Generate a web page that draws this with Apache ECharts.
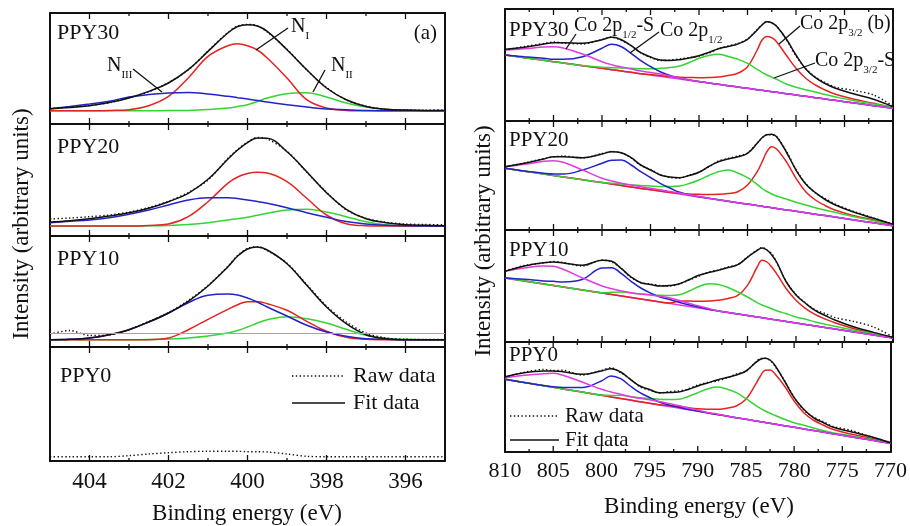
<!DOCTYPE html>
<html>
<head>
<meta charset="utf-8">
<script src="https://cdn.jsdelivr.net/npm/echarts@6/dist/echarts.min.js"></script>
<style>
  html, body { margin: 0; padding: 0; background: #fff; }
  #chart { width: 910px; height: 526px; }
</style>
</head>
<body>
<div id="chart"></div>
<script>
// ---------- N 1s panel (a): binding energy grid, eV ----------
const energyA = [405, 404.5, 404, 403.5, 403, 402.5, 402, 401.5, 401, 400.5, 400.25, 400, 399.75, 399.5, 399, 398.5, 398, 397.5, 397, 396.5, 396, 395.5, 395];
const rangeA = [395, 405];
const majorTicksA = [404, 402, 400, 398, 396];
const minorTicksA = [403, 401, 399, 397];

// PPY30
const a30Fit = [15.3, 16.5, 18.3, 21.5, 26, 32.6, 41, 54.3, 72.6, 91, 97.5, 99.3, 98, 92.6, 74.3, 54.3, 36, 24.3, 17.6, 14.8, 13.9, 13.6, 13.6];
const a30Raw = [15.6, 16.8, 18.5, 21.2, 26.4, 32.2, 41.5, 54, 73, 91.5, 98, 99.6, 98.3, 92, 74.8, 54, 36.5, 24, 17.9, 14.6, 14, 13.9, 14];
const a30N1 = [13.3, 13.3, 13.3, 13.6, 14.3, 18.3, 27.6, 46, 67.6, 78.3, 80.3, 78.3, 74, 66, 46, 24.3, 16, 13.6, 13.3, 13.3, 13.3, 13.3, 13.3];
const a30N2 = [13.3, 13.3, 13.3, 13.3, 13.3, 13.3, 13.4, 13.6, 14.5, 16, 17.5, 19.3, 22.5, 26, 30.3, 31.3, 27, 21, 17, 14.8, 13.8, 13.3, 13.3];
const a30N3 = [15.3, 17.5, 20, 22.8, 27, 29.5, 31, 31.6, 30, 27.7, 26.3, 25, 23.6, 22, 19.3, 17, 15, 14.2, 13.6, 13.3, 13.3, 13.3, 13.3];
// PPY20
const a20Fit = [14, 15.3, 17.3, 20, 23.3, 27.7, 34.3, 42.7, 56.7, 76.7, 86, 93.3, 98, 97.7, 84.3, 64.3, 43.3, 26.7, 17.3, 13.3, 11.3, 10.7, 10.3];
const a20Raw = [17, 18, 19.3, 21, 24, 28.5, 34.8, 43.5, 56, 77.5, 86.5, 94, 98.5, 97, 84.8, 63.8, 43.8, 26.2, 17.7, 13.8, 12, 11.5, 11.2];
const a20N1 = [10, 10, 10, 10, 10, 10.5, 12, 19.3, 34.3, 52.7, 59, 62.5, 63.7, 63, 54.3, 37.7, 21, 12.3, 10.3, 10, 10, 10, 10];
const a20N2 = [10, 10, 10, 10, 10, 10.2, 10.5, 11.5, 13.3, 16, 17.3, 18.7, 20.7, 22.7, 26, 26.7, 24, 19.3, 14.3, 11.3, 10, 10, 10];
const a20N3 = [13.3, 14.7, 16, 18.3, 21.7, 26, 31, 36, 38.3, 38.3, 37.5, 36, 34.5, 32.7, 28.3, 23.3, 18.7, 14.5, 12, 10.7, 10.3, 10, 10];
// PPY10
const a10Fit = [7.3, 7.7, 9, 12.3, 17.3, 25, 34, 45.7, 61, 80, 91, 98, 100, 97, 83.3, 61.7, 40, 23.3, 12.3, 8.3, 7.3, 7.3, 7.3];
const a10Raw = [13, 16.5, 11.5, 12, 17.5, 25.5, 34.5, 46.5, 61.5, 80.5, 91.5, 98.7, 100.3, 96.5, 83.8, 62.5, 41, 25, 14, 9, 7.8, 7.5, 7.5];
const a10N1 = [7.3, 7.3, 7.3, 7.3, 7.3, 7.3, 9, 17.3, 27.7, 37.7, 42.3, 45.3, 45.3, 43.3, 36.7, 25.7, 15.7, 9.7, 7.7, 7.3, 7.3, 7.3, 7.3];
const a10N2 = [7.3, 7.3, 7.3, 7.3, 7.3, 7.5, 8, 9, 11, 14, 16.5, 20, 24, 27.3, 30.3, 28.3, 24, 17.7, 11.7, 8.7, 7.7, 7.3, 7.3];
const a10N3 = [7.3, 7.7, 9, 12.3, 17.3, 25, 34, 44.3, 51.7, 53, 52, 49, 45, 40, 31, 21.7, 15, 10.7, 8.3, 7.7, 7.3, 7.3, 7.3];
const a10Level = 14;
// PPY0
const a0Raw = [4.3, 4.3, 4.3, 4.3, 5.3, 7, 8.3, 9.3, 9.7, 9.7, 9.7, 9.3, 9.2, 9, 7, 4.7, 4.3, 4.3, 4.3, 4.3, 4.3, 4.3, 4.3];

// ---------- Co 2p panel (b): binding energy grid, eV ----------
const energyB = [810, 808, 806, 805, 804, 802, 800, 799, 798, 797, 796, 795, 794, 793, 792, 791, 790, 789, 788, 787, 786, 785, 784, 783.5, 783, 782.5, 782, 781, 780, 779, 778, 777, 776, 774, 772, 770];
const ticksB = [810, 805, 800, 795, 790, 785, 780, 775, 770];
const minorTicksB = [807.5, 802.5, 797.5, 792.5, 787.5, 782.5, 777.5, 772.5];

// PPY30
const b30Bg   = [66, 63.3, 60.7, 59.3, 58, 55.3, 52.7, 51.3, 50, 48.7, 47.3, 46, 44.7, 43.3, 42, 40.7, 39.3, 38, 36.7, 35.3, 34, 32.7, 31.3, 30.7, 30, 29.3, 28.7, 27.3, 26, 24.7, 23.3, 22, 20.7, 18, 15.3, 12.7];
const b30P12S = [71, 72.3, 74, 74.3, 73, 67, 59.3, 56.3, 54, 52, 50, 48.5, 47, 45, 43, 41, 39.5, 38, 36.7, 35.3, 34, 32.7, 31.3, 30.7, 30, 29.3, 28.7, 27.3, 26, 24.7, 23.3, 22, 20.7, 18, 15.3, 12.7];
const b30P12  = [66, 64.3, 62.7, 61.7, 61.7, 64.3, 72.7, 76.7, 74.3, 67.7, 60.3, 54.5, 49.3, 45.5, 43, 41, 39.5, 38, 36.7, 35.3, 34, 32.7, 31.3, 30.7, 30, 29.3, 28.7, 27.3, 26, 24.7, 23.3, 22, 20.7, 18, 15.3, 12.7];
const b30P32S = [66, 63.3, 60.7, 59.3, 58, 55.5, 53.7, 53.3, 53, 52.7, 52.3, 52.3, 52.7, 53.5, 55, 58.5, 62.7, 65.5, 66.7, 64.5, 61.7, 57.7, 51.7, 48.7, 46, 43.8, 41.7, 37, 33.7, 31.3, 29, 26.5, 24.3, 20.3, 17, 13.7];
const b30P32  = [66, 63.3, 60.7, 59.3, 58, 55.3, 52.7, 51.3, 50, 48.7, 47.3, 46.5, 45.3, 44.5, 43.7, 43.5, 43.3, 43.5, 44, 45.5, 47.7, 54.3, 71, 81, 84.5, 83.3, 79.3, 65.7, 52.7, 42.7, 36, 31, 27, 21.7, 17.7, 13.3];
const b30Fit  = [71.7, 73.7, 77, 78.3, 78.3, 77.7, 81.3, 83.7, 81.3, 75.3, 68.3, 64, 61, 60.5, 61.3, 63, 65.3, 68.5, 72.3, 74.5, 77, 81.7, 91, 96, 99.3, 98.3, 94.7, 82, 66, 52, 43.3, 37.5, 33, 27, 21.7, 14.3];
const b30Raw  = [71, 74.5, 77.5, 79, 78, 77, 81.5, 84, 80.5, 75.5, 68, 63.5, 60.5, 61, 62, 63.5, 65, 68, 72, 75, 77.5, 82, 91.5, 96.5, 99.5, 98, 95, 81.5, 65, 52.5, 44, 38.5, 34, 30.5, 26, 15];
// PPY20
const b20Bg   = [61.7, 58.8, 56, 54.5, 53.1, 50.2, 47.4, 45.9, 44.5, 43.1, 41.6, 40.2, 38.8, 37.4, 35.9, 34.5, 33, 31.6, 30.2, 28.8, 27.3, 25.9, 24.4, 23.7, 23, 22.3, 21.6, 20.1, 18.7, 17.2, 15.8, 14.4, 12.9, 10, 7.2, 4.3];
const b20P12S = [63.3, 65.7, 68.7, 69.3, 67.7, 60, 51.7, 49, 46.7, 45, 43.3, 41.7, 40.3, 38.6, 37, 35.2, 33.5, 31.8, 30.2, 28.8, 27.3, 25.9, 24.4, 23.7, 23, 22.3, 21.6, 20.1, 18.7, 17.2, 15.8, 14.4, 12.9, 10, 7.2, 4.3];
const b20P12  = [61.7, 59, 56.7, 56, 56, 60, 66.7, 69.7, 70, 65, 58.3, 52.5, 46.7, 42, 37.7, 35, 33.3, 31.7, 30.2, 28.8, 27.3, 25.9, 24.4, 23.7, 23, 22.3, 21.6, 20.1, 18.7, 17.2, 15.8, 14.4, 12.9, 10, 7.2, 4.3];
const b20P32S = [61.7, 58.8, 56, 54.5, 53.1, 50.2, 47.6, 46.8, 46, 45.2, 44.5, 44, 43.5, 43.5, 44, 46.5, 50, 54.5, 58.3, 60, 57, 52.3, 45.7, 41.5, 38.5, 36, 34, 31, 27.7, 25, 22.3, 20, 17.7, 13.3, 9.3, 5];
const b20P32  = [61.7, 58.8, 56, 54.5, 53.1, 50.2, 47.4, 45.9, 44.5, 43.1, 41.6, 40.3, 39, 37.6, 36.7, 36, 35.7, 35.5, 35.7, 36.5, 38.3, 45, 58.3, 68, 78.3, 83.3, 81, 68.3, 51.7, 38.3, 30, 24.5, 20, 14.3, 10, 5];
const b20Fit  = [63.3, 66.7, 71, 73.3, 73.3, 72.3, 76, 78.3, 77.3, 72.3, 65, 60, 55, 53, 52.3, 54.5, 57.7, 63.5, 68.3, 71, 73.3, 76.7, 86.7, 92.3, 95.3, 95.7, 93.3, 78, 60, 46, 37.3, 30.5, 25.3, 17.7, 11.7, 5.7];
const b20Raw  = [63, 67, 71.5, 73, 74, 72, 76.5, 78.5, 77, 72, 64.5, 60.5, 55.5, 52.5, 52, 55, 58, 63, 69, 71.5, 74, 77, 87, 92, 95.5, 95, 93.5, 79, 60.5, 46.5, 37, 31.5, 26, 18.5, 12, 6];
// PPY10
const b10Bg   = [64, 61, 58, 56.5, 55, 52, 49, 47.5, 46, 44.5, 43, 41.5, 40, 38.5, 37, 35.5, 34, 32.5, 31, 29.5, 28, 26.5, 25, 24.3, 23.5, 22.8, 22, 20.5, 19, 17.5, 16, 14.5, 13, 10, 7, 4];
const b10P12S = [70.7, 74, 76, 75.7, 72.7, 64, 56, 53.3, 51, 49.3, 48, 47, 45.7, 44, 41.5, 38.5, 36, 33.5, 31, 29.5, 28, 26.5, 25, 24.3, 23.5, 22.8, 22, 20.5, 19, 17.5, 16, 14.5, 13, 10, 7, 4];
const b10P12  = [64, 62.7, 61, 60.7, 60, 62.7, 74, 74.3, 68.3, 60.7, 54, 49, 45, 42.5, 39.5, 37, 35, 32.7, 31, 29.5, 28, 26.5, 25, 24.3, 23.5, 22.8, 22, 20.5, 19, 17.5, 16, 14.5, 13, 10, 7, 4];
const b10P32S = [64, 61, 58, 56.5, 55, 52, 49.3, 49.7, 50, 49, 48, 47.3, 46.7, 46.5, 47.3, 51, 55.5, 58.3, 57.5, 54.5, 50, 45, 39.3, 37, 35.3, 33.3, 31.3, 28.3, 25, 22.7, 20, 17.8, 15.7, 11.7, 8.3, 4.7];
const b10P32  = [64, 61, 58, 56.5, 55, 52, 49, 47.5, 46, 44.5, 43, 41.5, 40, 39, 41, 41, 40.7, 41, 41.7, 43.5, 46.7, 56.7, 75, 81.7, 80, 75, 68.3, 53.3, 41.7, 33.3, 27.3, 23, 19.3, 13.3, 8.3, 4];
const b10Fit  = [70.7, 76, 79.3, 80, 79, 76.7, 81.7, 80.7, 73.3, 65, 59.3, 57.5, 56, 56.5, 58.3, 62.5, 66.7, 69.5, 71.7, 74.5, 77.3, 84.7, 91.7, 94, 92, 87, 80, 60, 47, 38.5, 31.3, 26.5, 22, 15, 9.6, 4.7];
const b10Raw  = [71, 76.5, 79, 80.5, 79.5, 76, 82, 80, 73.5, 64.5, 59.5, 58, 56.5, 56, 58, 62, 66, 70, 72, 75, 77.5, 85, 92, 94.5, 92, 88.5, 79.5, 60.5, 47.5, 39, 32, 28.5, 24.5, 20.5, 15, 5];
// PPY0
const b0Bg    = [72.7, 69.5, 66.3, 64.7, 63.1, 59.9, 56.7, 55.1, 53.5, 51.9, 50.3, 48.7, 47.1, 45.5, 43.9, 42.3, 40.7, 39.1, 37.5, 35.9, 34.3, 32.7, 31.1, 30.3, 29.5, 28.7, 27.9, 26.3, 24.7, 23.1, 21.5, 19.9, 18.3, 15.1, 11.9, 8.7];
const b0P12S  = [74.3, 76.7, 78.3, 78.7, 76.7, 70, 62.7, 60, 57.7, 55.3, 53.7, 52.3, 50.5, 48.5, 46.5, 44, 42, 39.5, 38, 35.9, 34.3, 32.7, 31.1, 30.3, 29.5, 28.7, 27.9, 26.3, 24.7, 23.1, 21.5, 19.9, 18.3, 15.1, 11.9, 8.7];
const b0P12   = [72.7, 69.5, 66.5, 65.3, 64.5, 64.5, 71, 76, 73.3, 66, 59.3, 54.5, 50, 47, 44.7, 42.7, 41, 39.2, 37.5, 35.9, 34.3, 32.7, 31.1, 30.3, 29.5, 28.7, 27.9, 26.3, 24.7, 23.1, 21.5, 19.9, 18.3, 15.1, 11.9, 8.7];
const b0P32S  = [72.7, 69.5, 66.3, 64.7, 63.1, 59.9, 57, 56.5, 56.7, 55.5, 54.3, 53.5, 52.7, 52.5, 52.7, 55.5, 59.3, 63, 65, 63, 59.3, 53.3, 46.7, 43.7, 41, 38.7, 36.7, 32.7, 29.3, 26.7, 24, 21.5, 19.3, 16, 12.7, 9.3];
const b0P32   = [72.7, 69.5, 66.3, 64.7, 63.1, 59.9, 56.7, 55.1, 53.5, 51.9, 50.3, 48.7, 47.3, 46.5, 45.5, 44.3, 43.3, 42.8, 42.7, 43.8, 46, 52.7, 67.7, 76, 81.7, 82, 78.3, 66, 51, 39.3, 32, 27, 22.7, 17.7, 13.7, 9.3];
const b0Fit   = [75.3, 79.3, 81, 81, 80.3, 77.7, 81, 83.3, 80, 72.7, 66, 62.5, 59.3, 59.5, 60, 62.5, 66, 69, 72, 74.5, 77, 81, 89.3, 92.7, 93.7, 92, 86.7, 71, 54.3, 42.7, 34.3, 29.5, 25, 20, 15.3, 9.3];
const b0Raw   = [75, 79.7, 82.5, 81.5, 81.7, 77, 81.7, 84.3, 79.3, 73, 65, 62, 59, 60.5, 61, 63, 67, 69.5, 71, 74, 78, 80.5, 90, 93.5, 93.7, 91.5, 86, 71.5, 55, 42, 35, 30.5, 25.7, 21.5, 15, 9.7];

// ---------- styling ----------
const SERIF = '"Liberation Serif", "Times New Roman", serif';
const INK = '#111';
const RED = '#e5231f', GREEN = '#35d435', BLUE = '#2323c8', MAGENTA = '#e03ce0', OLIVE = '#b9a75e';
const MAJOR_LEN = 6, MINOR_LEN = 3;

const grids = [], xAxes = [], yAxes = [], series = [];

function pairs(xs, ys) { return xs.map((x, i) => [x, ys[i]]); }

const frameLine = () => ({ show: true, onZero: false, lineStyle: { color: INK, width: 2 } });
const noLine = () => ({ show: false, onZero: false });
const labelStyle = { fontFamily: SERIF, fontSize: 23, color: INK };

// One row = one framed rectangle. Each axis sits on its own grid (same rectangle
// or a sub-span of it); the first grid carries the curves and the side frame lines.
function addRow(box, axes) {
  let ref = null;
  axes.forEach((a, k) => {
    const span = a.span || box;
    const gi = grids.length;
    grids.push({ left: span.left, width: span.width, top: box.top, height: box.height, show: false });
    const yi = yAxes.length;
    if (k === 0) {
      ['left', 'right'].forEach(pos => yAxes.push({
        gridIndex: gi, type: 'value', min: 0, max: box.height, position: pos,
        axisLine: frameLine(), axisTick: { show: false }, axisLabel: { show: false }, splitLine: { show: false }
      }));
    } else {
      yAxes.push({ gridIndex: gi, type: 'value', min: 0, max: box.height, show: false });
    }
    const xi = xAxes.length;
    const ax = Object.assign({ gridIndex: gi, type: 'value', inverse: true, splitLine: { show: false },
      axisTick: { show: false } }, a);
    delete ax.span;
    xAxes.push(ax);
    if (k === 0) ref = { xi, yi, height: box.height };
  });
  return ref;
}

function axesA(box, withLabels) {
  const lo = Math.min(...majorTicksA), hi = Math.max(...majorTicksA);
  const perEv = box.width / (rangeA[1] - rangeA[0]);
  // sub-span covering exactly the labelled values, so labels are counted from an even value
  const span = { left: box.left + (rangeA[1] - hi) * perEv, width: (hi - lo) * perEv };
  const full = { min: rangeA[0], max: rangeA[1] };
  const axes = [
    Object.assign({}, full, { position: 'bottom', axisLine: frameLine(), axisLabel: { show: false } }),
    Object.assign({}, full, { position: 'top', axisLine: frameLine(), axisLabel: { show: false } })
  ];
  if (withLabels) {
    axes.push({ min: lo, max: hi, interval: majorTicksA[0] - majorTicksA[1], span, position: 'bottom',
      axisLine: noLine(), axisLabel: Object.assign({ show: true, margin: 9 }, labelStyle) });
  }
  return axes;
}

function axesB(withLabels) {
  const lo = Math.min(...ticksB), hi = Math.max(...ticksB);
  const major = { min: lo, max: hi, interval: ticksB[0] - ticksB[1] };
  return [
    Object.assign({}, major, { position: 'bottom', axisLine: frameLine(),
      axisLabel: withLabels ? Object.assign({ show: true, margin: 8 }, labelStyle, { fontSize: 22 }) : { show: false } }),
    Object.assign({}, major, { position: 'top', axisLine: frameLine(), axisLabel: { show: false } })
  ];
}

function line(ref, xs, ys, color, opts) {
  const s = Object.assign({
    type: 'line', xAxisIndex: ref.xi, yAxisIndex: ref.yi, data: pairs(xs, ys),
    showSymbol: false, smooth: 0.4, silent: true, animation: false,
    lineStyle: { color, width: 1.5 }, itemStyle: { color }
  }, opts || {});
  series.push(s);
  return s;
}
function raw(ref, xs, ys) {
  line(ref, xs, ys, INK, { lineStyle: { color: INK, width: 1.4, type: [1.4, 2.4] }, smooth: 0.3 });
}

// ---------- panel (a) rows ----------
const rowsA = [
  { top: 13, height: 111 }, { top: 124, height: 112 }, { top: 236, height: 111 }, { top: 347, height: 114 }
].map((b, i) => {
  const box = { left: 50, width: 395, top: b.top, height: b.height };
  return addRow(box, axesA(box, i === 3));
});

[[a30N2, a30N1, a30N3, a30Fit, a30Raw], [a20N2, a20N1, a20N3, a20Fit, a20Raw], [a10N2, a10N1, a10N3, a10Fit, a10Raw]]
  .forEach((set, i) => {
    const ref = rowsA[i];
    const g = line(ref, energyA, set[0], GREEN);
    line(ref, energyA, set[1], RED);
    line(ref, energyA, set[2], BLUE);
    line(ref, energyA, set[3], INK);
    raw(ref, energyA, set[4]);
    if (i === 2) {
      g.markLine = { silent: true, symbol: ['none', 'none'], label: { show: false }, animation: false,
        lineStyle: { color: OLIVE, width: 1.2, type: 'solid' }, data: [{ yAxis: a10Level }] };
    }
  });
raw(rowsA[3], energyA, a0Raw);

// ---------- panel (b) rows ----------
const rowsB = [
  { top: 9, height: 112 }, { top: 121, height: 109 }, { top: 230, height: 112 }, { top: 342, height: 110 }
].map((b, i) => addRow({ left: 505, width: 388, top: b.top, height: b.height }, axesB(i === 3)));

[[b30Bg, b30P32, b30P32S, b30P12, b30P12S, b30Fit, b30Raw],
 [b20Bg, b20P32, b20P32S, b20P12, b20P12S, b20Fit, b20Raw],
 [b10Bg, b10P32, b10P32S, b10P12, b10P12S, b10Fit, b10Raw],
 [b0Bg, b0P32, b0P32S, b0P12, b0P12S, b0Fit, b0Raw]]
  .forEach((set, i) => {
    const ref = rowsB[i];
    line(ref, energyB, set[0], MAGENTA);
    line(ref, energyB, set[1], RED);
    line(ref, energyB, set[2], GREEN);
    line(ref, energyB, set[3], BLUE);
    line(ref, energyB, set[4], MAGENTA);
    line(ref, energyB, set[5], INK);
    raw(ref, energyB, set[6]);
  });

// ---------- annotations ----------
function text(x, y, str, size, extra) {
  return { type: 'text', x, y, silent: true, z: 100,
    style: Object.assign({ text: str, fill: INK, fontFamily: SERIF, fontSize: size, align: 'left', verticalAlign: 'middle' }, extra || {}) };
}
const richSub = (size) => ({
  n: { fontFamily: SERIF, fontSize: size, fill: INK, lineHeight: 30, verticalAlign: 'middle' },
  s: { fontFamily: SERIF, fontSize: 11, fill: INK, lineHeight: 12, verticalAlign: 'bottom' }
});
function richText(x, y, str, size) {
  return { type: 'text', x, y, silent: true, z: 100,
    style: { text: str, rich: richSub(size), fill: INK, fontFamily: SERIF, fontSize: size, align: 'left', verticalAlign: 'middle' } };
}
function seg(x1, y1, x2, y2, dash) {
  return { type: 'line', silent: true, z: 100, shape: { x1, y1, x2, y2 },
    style: { stroke: INK, lineWidth: dash ? 1.4 : 1.3, lineDash: dash || null } };
}

const graphics = [
  // panel (a)
  text(57, 33, 'PPY30', 22), text(437, 33, '(a)', 21, { align: 'right' }),
  text(57, 147, 'PPY20', 22), text(57, 259, 'PPY10', 22), text(60, 376, 'PPY0', 22),
  richText(291, 27, '{n|N}{s|I}', 20), richText(107, 66, '{n|N}{s|III}', 20), richText(331, 66, '{n|N}{s|II}', 20),
  seg(288, 28, 256, 50), seg(133, 69, 162, 92), seg(325, 70, 313, 92),
  seg(292, 376, 343, 376, [1.4, 2.4]), text(353, 376, 'Raw data', 22),
  seg(292, 403, 345, 403), text(353, 403, 'Fit data', 22),
  text(247, 514, 'Binding energy (eV)', 23, { align: 'center' }),
  { type: 'text', x: 22, y: 224, rotation: Math.PI / 2, silent: true, z: 100,
    style: { text: 'Intensity (arbitrary units)', fill: INK, fontFamily: SERIF, fontSize: 23, align: 'center', verticalAlign: 'middle' } },
  // panel (b)
  text(509, 30, 'PPY30', 21), text(509, 140, 'PPY20', 21), text(509, 250, 'PPY10', 21), text(509, 355, 'PPY0', 21),
  richText(574, 26, '{n|Co 2p}{s|1/2}{n|-S}', 20),
  richText(660, 31, '{n|Co 2p}{s|1/2}', 20),
  richText(800, 24, '{n|Co 2p}{s|3/2}{n| (b)}', 20),
  richText(815, 61, '{n|Co 2p}{s|3/2}{n|-S}', 20),
  seg(576, 34, 566, 49), seg(659, 32, 630, 53), seg(800, 26, 779, 44), seg(815, 63, 774, 78),
  seg(510, 416, 559, 416, [1.4, 2.4]), text(565, 416, 'Raw data', 21),
  seg(510, 440, 559, 440), text(565, 440, 'Fit data', 21),
  text(699, 507, 'Binding energy (eV)', 23, { align: 'center' }),
  { type: 'text', x: 484, y: 241, rotation: Math.PI / 2, silent: true, z: 100,
    style: { text: 'Intensity (arbitrary units)', fill: INK, fontFamily: SERIF, fontSize: 23, align: 'center', verticalAlign: 'middle' } }
];

const chart = echarts.init(document.getElementById('chart'), null, { renderer: 'canvas' });
chart.setOption({
  animation: false,
  backgroundColor: '#fff',
  grid: grids,
  xAxis: xAxes,
  yAxis: yAxes,
  series: series,
  graphic: graphics
});

// inward tick marks on the top and bottom edge of every row, placed through each row's axes
const tickEls = [];
function addTicks(ref, majors, minors) {
  const finder = { xAxisIndex: ref.xi, yAxisIndex: ref.yi };
  const put = (v, len) => {
    const b = chart.convertToPixel(finder, [v, 0]);
    const t = chart.convertToPixel(finder, [v, ref.height]);
    if (!b || !t) return;
    tickEls.push(seg(b[0], b[1], b[0], b[1] - len), seg(t[0], t[1], t[0], t[1] + len));
  };
  majors.forEach(v => put(v, MAJOR_LEN));
  minors.forEach(v => put(v, MINOR_LEN));
}
try {
  rowsA.forEach(r => addTicks(r, majorTicksA, minorTicksA));
  rowsB.forEach(r => addTicks(r, ticksB.slice(1, -1), minorTicksB));
  chart.setOption({ graphic: graphics.concat(tickEls) });
} catch (e) { /* ticks are decoration only */ }
</script>
</body>
</html>
